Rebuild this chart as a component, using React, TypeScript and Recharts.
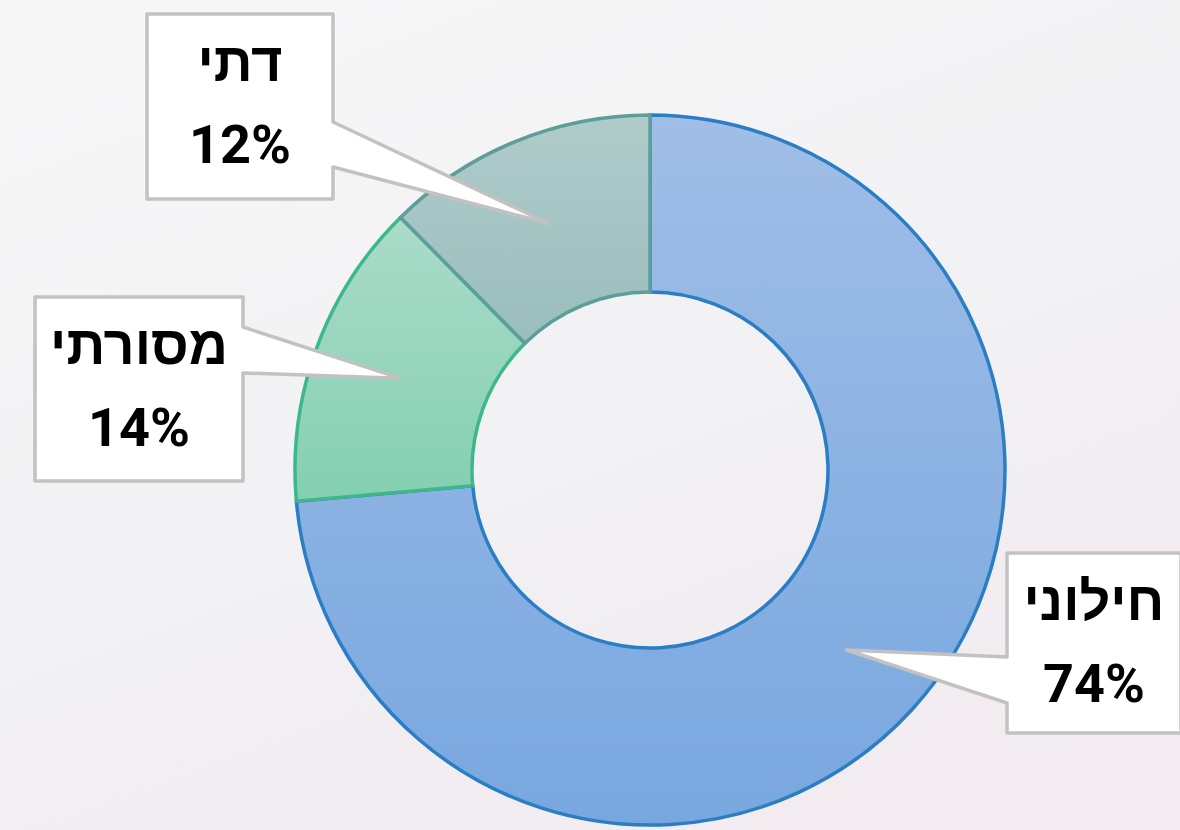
import React from "react";
import { PieChart, Pie, Cell } from "recharts";

// נתונים
const categories = ["חילוני", "מסורתי", "דתי"];
const shares = [73.6, 14.0, 12.4];
const shareLabels = ["74%", "14%", "12%"];

const data = categories.map((name, i) => ({ name, value: shares[i], label: shareLabels[i] }));

const fills = ["url(#gBlue)", "url(#gGreen)", "url(#gTeal)"];
const strokes = ["#2b7ec3", "#3cb88b", "#5c9e99"];

// מיקום תיבות התוויות (x, y, רוחב, גובה, צד החץ, קצה החץ העליון/תחתון)
const boxes = [
  { x: 1007, y: 553, w: 174, h: 180, side: "left", n1: 104, n2: 150 },
  { x: 35, y: 297, w: 208, h: 184, side: "right", n1: 30, n2: 76 },
  { x: 147, y: 14, w: 186, h: 185, side: "right", n1: 108, n2: 153 },
];

const RAD = Math.PI / 180;
const FONT = "Roboto, 'Liberation Sans', 'DejaVu Sans', sans-serif";

const CalloutLabel = (props: any) => {
  const { cx, cy, midAngle, innerRadius, outerRadius, index, name, payload } = props;
  const r = (innerRadius + outerRadius) / 2;
  const tx = cx + r * Math.cos(-midAngle * RAD);
  const ty = cy + r * Math.sin(-midAngle * RAD);
  const b = boxes[index];
  let pts: number[][];
  if (b.side === "right") {
    pts = [
      [b.x, b.y],
      [b.x + b.w, b.y],
      [b.x + b.w, b.y + b.n1],
      [tx, ty],
      [b.x + b.w, b.y + b.n2],
      [b.x + b.w, b.y + b.h],
      [b.x, b.y + b.h],
    ];
  } else {
    pts = [
      [b.x, b.y],
      [b.x + b.w, b.y],
      [b.x + b.w, b.y + b.h],
      [b.x, b.y + b.h],
      [b.x, b.y + b.n2],
      [tx, ty],
      [b.x, b.y + b.n1],
    ];
  }
  const mid = b.x + b.w / 2;
  const pct = payload && payload.label ? payload.label : shareLabels[index];
  return (
    <g>
      <polygon
        points={pts.map((p) => p.join(",")).join(" ")}
        fill="#ffffff"
        stroke="#c2c2c2"
        strokeWidth={3.5}
        strokeLinejoin="round"
      />
      <text x={mid} y={b.y + 67} textAnchor="middle" fontSize={54} fontWeight={700} fill="#000" fontFamily={FONT}>
        {name}
      </text>
      <text x={mid} y={b.y + 149} textAnchor="middle" fontSize={54} fontWeight={700} fill="#000" fontFamily={FONT}>
        {pct}
      </text>
    </g>
  );
};

export default function App() {
  return (
    <div
      style={{
        position: "fixed",
        left: 0,
        top: 0,
        width: 1180,
        height: 830,
        background:
          "linear-gradient(160deg, #f7f7f8 0%, #f2f2f4 45%, #f1edf1 75%, #f4ebf0 100%)",
      }}
    >
      <PieChart width={1180} height={830} margin={{ top: 0, right: 0, bottom: 0, left: 0 }}>
        <defs>
          <linearGradient id="gBlue" x1="0" y1="0" x2="0" y2="1">
            <stop offset="0%" stopColor="#a0bee7" />
            <stop offset="100%" stopColor="#78a7df" />
          </linearGradient>
          <linearGradient id="gGreen" x1="0" y1="0" x2="0" y2="1">
            <stop offset="0%" stopColor="#aadcc9" />
            <stop offset="100%" stopColor="#84cfb2" />
          </linearGradient>
          <linearGradient id="gTeal" x1="0" y1="0" x2="0" y2="1">
            <stop offset="0%" stopColor="#afcbca" />
            <stop offset="100%" stopColor="#9abebd" />
          </linearGradient>
        </defs>
        <Pie
          data={data}
          dataKey="value"
          nameKey="name"
          cx={650}
          cy={470}
          innerRadius={178}
          outerRadius={355}
          startAngle={90}
          endAngle={-270}
          paddingAngle={0}
          label={CalloutLabel}
          labelLine={false}
          isAnimationActive={false}
        >
          {data.map((d, i) => (
            <Cell key={d.name} fill={fills[i]} stroke={strokes[i]} strokeWidth={3.5} />
          ))}
        </Pie>
      </PieChart>
    </div>
  );
}
